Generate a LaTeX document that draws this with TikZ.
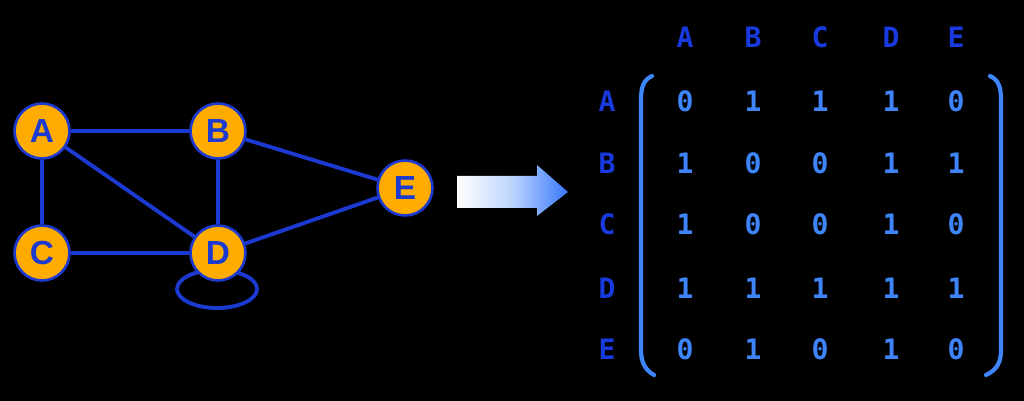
\documentclass[tikz,border=0pt]{standalone}
\usepackage{fontspec}
\setmainfont{Liberation Sans}
\newfontfamily\matfont{DejaVu Sans Mono}[BoldFont={DejaVu Sans Mono Bold}]
\usetikzlibrary{positioning}
\definecolor{vertexfill}{RGB}{255,171,0}
\definecolor{edgeblue}{RGB}{28,58,208}
\definecolor{cellblue}{RGB}{62,132,250}
\definecolor{headblue}{RGB}{24,58,222}

\begin{document}
\begin{tikzpicture}[
    x=0.02cm, y=-0.02cm,
    vertex/.style={circle, draw=edgeblue, line width=1.5pt, fill=vertexfill, minimum size=1.1cm,
        inner sep=0pt, font=\fontsize{19}{19}\selectfont\bfseries, text=edgeblue},
    edge/.style={draw=edgeblue, line width=2.2pt},
    head/.style={font=\matfont\bfseries\fontsize{16}{16}\selectfont, text=headblue, inner sep=0pt},
    cell/.style={font=\matfont\bfseries\fontsize{16}{16}\selectfont, text=cellblue, inner sep=0pt},
    paren/.style={draw=cellblue, line width=2.4pt, line cap=round}
]
\fill[black] (0,0) rectangle (1024,401);

% self loop sits behind D
\draw[edge] (217,289) ellipse [x radius=40, y radius=19];

\node[vertex] (A) at (42,131) {A};
\node[vertex] (B) at (218,131) {B};
\node[vertex] (C) at (42,253) {C};
\node[vertex] (D) at (218,253) {D};
\node[vertex] (E) at (405,188) {E};

\draw[edge] (A) -- (B);
\draw[edge] (A) -- (C);
\draw[edge] (A) -- (D);
\draw[edge] (B) -- (D);
\draw[edge] (C) -- (D);
\draw[edge] (B) -- (E);
\draw[edge] (D) -- (E);

% transition arrow
\shade[left color=white, right color=cellblue!90!blue, middle color=cellblue!35]
    (457,176) -- (537,176) -- (537,165) -- (568,192) -- (537,216) -- (537,208) -- (457,208) -- cycle;

% column and row labels
\foreach \name/\xx in {A/685, B/753, C/820, D/891, E/956}
    \node[head] (col\name) at (\xx,37) {\name};
\foreach \name/\yy in {A/101, B/163, C/224, D/288, E/349}
    \node[head] (row\name) at (607,\yy) {\name};

% entries
\foreach \row/\vals in {A/{0,1,1,1,0}, B/{1,0,0,1,1}, C/{1,0,0,1,0}, D/{1,1,1,1,1}, E/{0,1,0,1,0}}
    \foreach \v/\col in {0/A,1/B,2/C,3/D,4/E} {
        \pgfmathtruncatemacro{\entry}{{\vals}[\v]}
        \node[cell] (m\row\col) at (col\col |- row\row) {\entry};
    }

% brackets
\draw[paren] (652,76) .. controls (643,80) and (641,88) .. (641,100) -- (641,350)
    .. controls (641,362) and (645,370) .. (654,375);
\draw[paren] (990,76) .. controls (999,80) and (1001,88) .. (1001,100) -- (1001,350)
    .. controls (1001,362) and (997,370) .. (986,375);
\end{tikzpicture}
\end{document}
